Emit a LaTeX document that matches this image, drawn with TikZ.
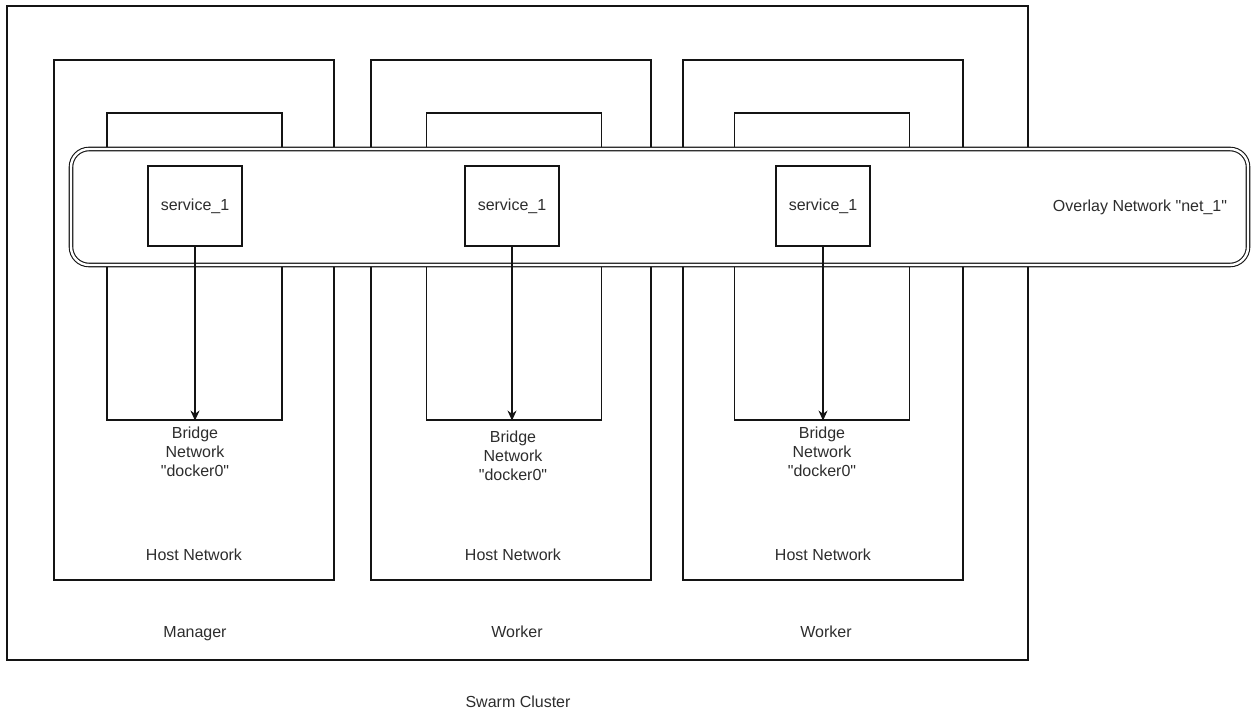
\documentclass[tikz,border=0pt]{standalone}
\usepackage{fontspec}
\setmainfont{Liberation Sans}
\usepackage{xcolor}
\usepackage{tikz}
\usetikzlibrary{arrows.meta}
\definecolor{LineBlack}{RGB}{20,20,20}
\definecolor{LabelGray}{RGB}{45,45,45}

\begin{document}
\begin{tikzpicture}[x=0.5pt,y=-0.5pt,
  frame/.style={draw=LineBlack,line width=0.55pt,inner sep=0pt},
  hostbox/.style={frame,minimum width=140pt,minimum height=260pt},
  ctrbox/.style={frame,minimum width=87.5pt,minimum height=153.5pt},
  svcbox/.style={frame,fill=white,minimum width=47pt,minimum height=40pt},
  lbl/.style={font=\fontsize{8pt}{9.6pt}\selectfont,text=LabelGray,align=center,inner sep=0pt},
  arr/.style={-{Stealth[length=5pt,width=4.5pt]},draw=LineBlack,line width=0.55pt}
]
\useasboundingbox (0,0) rectangle (1252,711);
% swarm cluster and hosts
\node[frame,minimum width=510.5pt,minimum height=327pt] (sw) at (517.5,333) {};
\node[hostbox] (h1) at (194,320) {};
\node[hostbox] (h2) at (511,320) {};
\node[hostbox] (h3) at (823,320) {};
% bridge network boxes
\node[ctrbox] (c1) at (194.5,266.5) {};
\node[ctrbox] (c2) at (514,266.5) {};
\node[ctrbox] (c3) at (822,266.5) {};
% overlay network
\node[draw=LineBlack,double=white,double distance=1.2pt,line width=0.55pt,fill=white,
  rounded corners=9pt,minimum width=588.5pt,minimum height=58pt] (ov) at (659.5,207) {};
\node[lbl] (ovl) at (1140,207) {Overlay Network \textquotedbl net\_1\textquotedbl};
% services
\node[svcbox] (sv1) at (195,206) {};
\node[svcbox] (sv2) at (512,206) {};
\node[svcbox] (sv3) at (823,206) {};
\node[lbl] at (sv1) {service\_1};
\node[lbl] at (sv2) {service\_1};
\node[lbl] at (sv3) {service\_1};
\draw[arr] (sv1.south) -- (sv1.south |- c1.south);
\draw[arr] (sv2.south) -- (sv2.south |- c2.south);
\draw[arr] (sv3.south) -- (sv3.south |- c3.south);
% labels
\node[lbl] (b1) at (195,452) {Bridge\\Network\\\textquotedbl docker0\textquotedbl};
\node[lbl] (b2) at (513,456) {Bridge\\Network\\\textquotedbl docker0\textquotedbl};
\node[lbl] (b3) at (822,452) {Bridge\\Network\\\textquotedbl docker0\textquotedbl};
\node[lbl] (hn1) at (194,555) {Host Network};
\node[lbl] (hn2) at (513,555) {Host Network};
\node[lbl] (hn3) at (823,555) {Host Network};
\node[lbl] (m1) at (195,634) {Manager};
\node[lbl] (w1) at (517,632) {Worker};
\node[lbl] (w2) at (826,632) {Worker};
\node[lbl] (swl) at (518,702) {Swarm Cluster};
\end{tikzpicture}
\end{document}
